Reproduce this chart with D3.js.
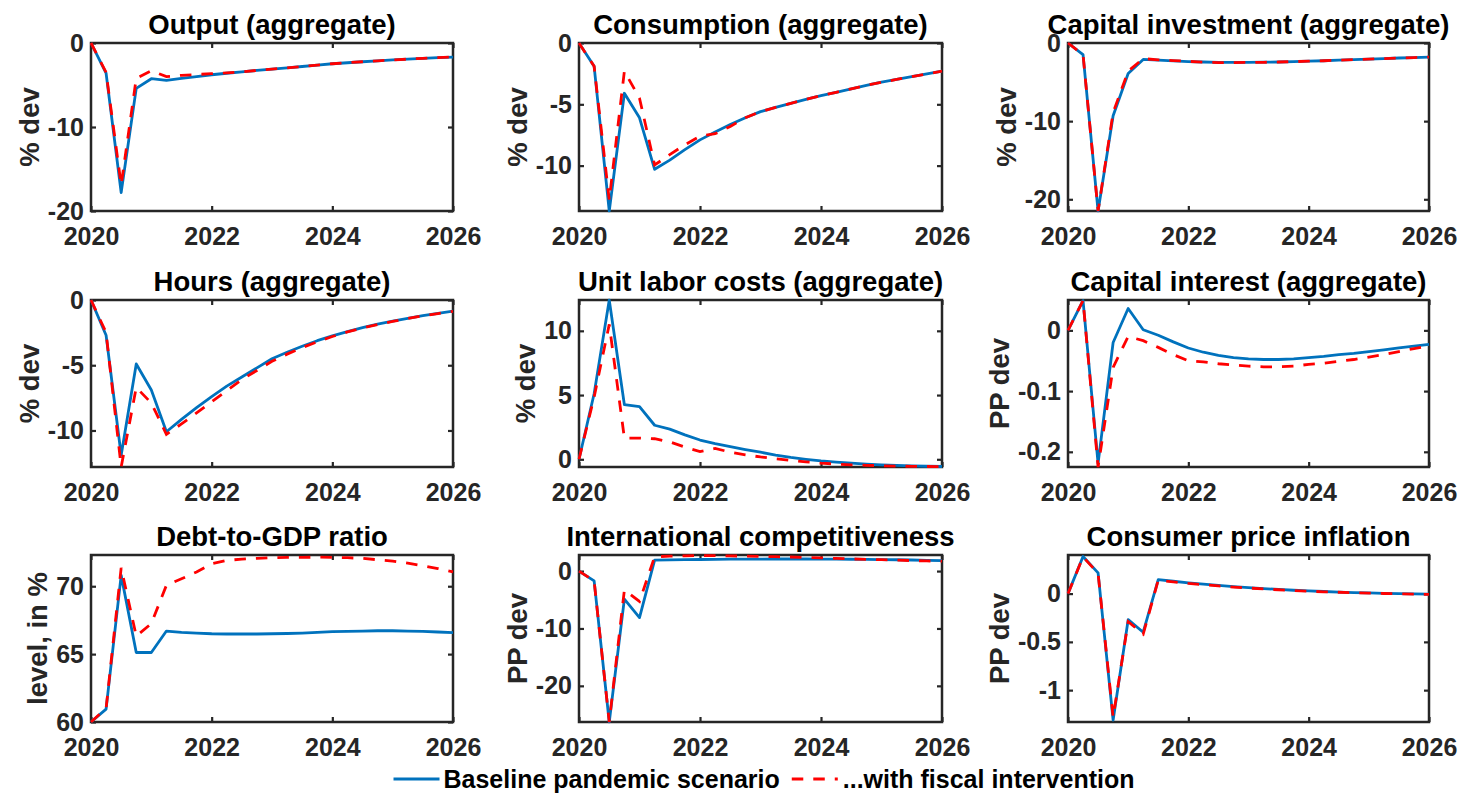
<!DOCTYPE html>
<html>
<head>
<meta charset="utf-8">
<script src="https://cdn.jsdelivr.net/npm/d3@7"></script>
<style>
  html, body { margin: 0; padding: 0; background: #ffffff; }
  svg { display: block; font-family: "Liberation Sans", Arial, Helvetica, sans-serif; font-weight: bold; }
</style>
</head>
<body>
<svg id="fig" width="1463" height="795"></svg>
<script>
// Quarterly horizon of the scenario
const quarters = [2020, 2020.25, 2020.5, 2020.75, 2021, 2021.25, 2021.5, 2021.75,
                  2022, 2022.25, 2022.5, 2022.75, 2023, 2023.25, 2023.5, 2023.75,
                  2024, 2024.25, 2024.5, 2024.75, 2025, 2025.25, 2025.5, 2025.75, 2026];
const xTicks = [2020, 2022, 2024, 2026];

const seriesNames = ["Baseline pandemic scenario", "...with fiscal intervention"];

// Output (aggregate), % dev
const outputBase   = [0, -3.6, -17.8, -5.4, -4.25, -4.45, -4.2, -4.0, -3.78, -3.6, -3.43, -3.26, -3.1, -2.95, -2.8, -2.63, -2.47, -2.35, -2.23, -2.12, -2.02, -1.92, -1.83, -1.75, -1.67];
const outputFiscal = [0, -3.5, -16.9, -4.2, -3.3, -4.0, -3.85, -3.75, -3.65, -3.55, -3.43, -3.26, -3.1, -2.95, -2.8, -2.63, -2.47, -2.35, -2.23, -2.12, -2.02, -1.92, -1.83, -1.75, -1.67];

// Consumption (aggregate), % dev
const consBase   = [0, -1.9, -13.7, -4.1, -6.1, -10.3, -9.55, -8.7, -7.9, -7.25, -6.65, -6.1, -5.6, -5.25, -4.92, -4.6, -4.3, -4.02, -3.74, -3.46, -3.2, -2.97, -2.75, -2.52, -2.3];
const consFiscal = [0, -1.9, -12.8, -2.3, -4.5, -9.95, -9.1, -8.3, -7.6, -7.4, -6.8, -6.1, -5.6, -5.25, -4.92, -4.6, -4.3, -4.02, -3.74, -3.46, -3.2, -2.97, -2.75, -2.52, -2.3];

// Capital investment (aggregate), % dev
const invBase   = [0, -1.5, -21.5, -9.3, -3.9, -2.1, -2.2, -2.3, -2.38, -2.43, -2.47, -2.48, -2.48, -2.46, -2.43, -2.38, -2.33, -2.27, -2.2, -2.13, -2.06, -1.99, -1.92, -1.86, -1.8];
const invFiscal = [0, -1.5, -21.5, -8.9, -3.6, -2.0, -2.15, -2.25, -2.35, -2.45, -2.5, -2.5, -2.49, -2.47, -2.43, -2.38, -2.33, -2.27, -2.2, -2.13, -2.06, -1.99, -1.92, -1.86, -1.8];

// Hours (aggregate), % dev
const hoursBase   = [0, -2.7, -11.9, -4.9, -6.9, -10.1, -9.15, -8.25, -7.4, -6.6, -5.9, -5.2, -4.5, -4.0, -3.55, -3.12, -2.75, -2.42, -2.12, -1.85, -1.62, -1.4, -1.2, -1.02, -0.85];
const hoursFiscal = [0, -2.5, -12.8, -6.7, -7.9, -10.3, -9.5, -8.65, -7.8, -6.95, -6.1, -5.4, -4.7, -4.15, -3.65, -3.2, -2.8, -2.45, -2.15, -1.88, -1.64, -1.42, -1.22, -1.04, -0.87];

// Unit labor costs (aggregate), % dev
const ulcBase   = [0, 5.1, 12.4, 4.25, 4.1, 2.65, 2.35, 1.9, 1.5, 1.22, 0.98, 0.76, 0.55, 0.33, 0.15, 0.0, -0.13, -0.22, -0.3, -0.37, -0.43, -0.47, -0.51, -0.54, -0.56];
const ulcFiscal = [0, 4.85, 10.5, 1.65, 1.65, 1.6, 1.35, 0.95, 0.6, 0.85, 0.55, 0.35, 0.18, 0.04, -0.08, -0.2, -0.3, -0.37, -0.43, -0.47, -0.5, -0.53, -0.55, -0.56, -0.57];

// Capital interest (aggregate), PP dev
const rkBase   = [0, 0.049, -0.219, -0.02, 0.036, 0.001, -0.008, -0.019, -0.029, -0.036, -0.041, -0.045, -0.047, -0.048, -0.048, -0.047, -0.045, -0.043, -0.04, -0.038, -0.035, -0.032, -0.029, -0.026, -0.023];
const rkFiscal = [0, 0.049, -0.225, -0.061, -0.01, -0.017, -0.028, -0.04, -0.05, -0.052, -0.055, -0.057, -0.059, -0.06, -0.06, -0.059, -0.056, -0.054, -0.051, -0.048, -0.044, -0.04, -0.035, -0.03, -0.026];

// Debt-to-GDP ratio, level in %
const debtBase   = [60, 60.95, 70.8, 65.12, 65.12, 66.7, 66.6, 66.55, 66.5, 66.48, 66.48, 66.48, 66.5, 66.52, 66.55, 66.6, 66.65, 66.68, 66.7, 66.72, 66.72, 66.7, 66.68, 66.63, 66.58];
const debtFiscal = [60, 61.0, 71.35, 66.33, 67.25, 70.07, 70.55, 71.05, 71.66, 71.9, 72.0, 72.05, 72.1, 72.12, 72.13, 72.14, 72.13, 72.1, 72.05, 71.95, 71.85, 71.7, 71.5, 71.3, 71.05];

// International competitiveness, PP dev
const compBase   = [0, -1.7, -26.3, -4.9, -8.1, 1.9, 1.95, 2.0, 2.02, 2.05, 2.07, 2.08, 2.09, 2.1, 2.1, 2.1, 2.09, 2.08, 2.06, 2.03, 2.0, 1.97, 1.93, 1.88, 1.83];
const compFiscal = [0, -1.7, -26.3, -3.3, -5.3, 2.5, 2.6, 2.65, 2.7, 2.68, 2.65, 2.6, 2.55, 2.5, 2.45, 2.38, 2.3, 2.2, 2.12, 2.05, 1.98, 1.9, 1.83, 1.77, 1.72];

// Consumer price inflation, PP dev
const cpiBase   = [0, 0.385, 0.215, -1.31, -0.27, -0.40, 0.145, 0.128, 0.112, 0.098, 0.085, 0.073, 0.062, 0.052, 0.043, 0.035, 0.028, 0.022, 0.016, 0.011, 0.007, 0.003, 0.0, -0.003, -0.006];
const cpiFiscal = [0, 0.38, 0.21, -1.28, -0.29, -0.42, 0.14, 0.122, 0.105, 0.092, 0.08, 0.068, 0.058, 0.048, 0.04, 0.032, 0.025, 0.019, 0.014, 0.009, 0.005, 0.001, -0.002, -0.005, -0.008];

const titles = ["Output (aggregate)", "Consumption (aggregate)", "Capital investment (aggregate)",
                "Hours (aggregate)", "Unit labor costs (aggregate)", "Capital interest (aggregate)",
                "Debt-to-GDP ratio", "International competitiveness", "Consumer price inflation"];
const yLabels = ["% dev", "% dev", "% dev", "% dev", "% dev", "PP dev", "level, in %", "PP dev", "PP dev"];
const yLimits = [[-20, 0], [-13.7, 0], [-21.5, 0], [-12.8, 0], [-0.6, 12.4], [-0.225, 0.05], [60, 72.3], [-26.3, 2.8], [-1.33, 0.4]];
const yTicks  = [[-20, -10, 0], [-10, -5, 0], [-20, -10, 0], [-10, -5, 0], [0, 5, 10], [-0.2, -0.1, 0], [60, 65, 70], [-20, -10, 0], [-1, -0.5, 0]];
const baseSeries   = [outputBase, consBase, invBase, hoursBase, ulcBase, rkBase, debtBase, compBase, cpiBase];
const fiscalSeries = [outputFiscal, consFiscal, invFiscal, hoursFiscal, ulcFiscal, rkFiscal, debtFiscal, compFiscal, cpiFiscal];

// Subplot grid geometry
const colLeft = [91, 579, 1068], colRight = [453, 942, 1429];
const rowTop = [43, 300, 555], rowBottom = [211, 467, 722];

const AXIS_COLOR = "#262626";
const BLUE = "#0072BD", RED = "#FF0000";
const TICK_FONT = 25, LABEL_FONT = 27.5;
const LINE_W = 2.8, DASH = "11.5,10";

const svg = d3.select("#fig");

titles.forEach((title, k) => {
  const r = Math.floor(k / 3), c = k % 3;
  const left = colLeft[c], right = colRight[c], top = rowTop[r], bottom = rowBottom[r];

  const x = d3.scaleLinear().domain([2020, 2026]).range([left, right]);
  const y = d3.scaleLinear().domain(yLimits[k]).range([bottom, top]);
  const fmt = d => String(+d.toFixed(4));

  const g = svg.append("g");

  const clipId = "clip" + k;
  g.append("clipPath").attr("id", clipId)
    .append("rect").attr("x", left - 1.5).attr("y", top - 1.5)
    .attr("width", right - left + 3).attr("height", bottom - top + 3);

  // box
  g.append("rect")
    .attr("x", left).attr("y", top).attr("width", right - left).attr("height", bottom - top)
    .attr("fill", "none").attr("stroke", AXIS_COLOR).attr("stroke-width", 2.5);

  // axes with inward ticks
  const styleAxis = sel => {
    sel.select(".domain").remove();
    sel.selectAll(".tick line").attr("stroke", AXIS_COLOR).attr("stroke-width", 2.2);
    sel.selectAll(".tick text")
      .attr("fill", AXIS_COLOR)
      .style("font-size", TICK_FONT + "px")
      .style("font-weight", "bold");
  };
  g.append("g").attr("transform", `translate(0,${bottom})`)
    .call(d3.axisBottom(x).tickValues(xTicks).tickSize(-5).tickPadding(16.5).tickFormat(d3.format("d")))
    .call(styleAxis);
  g.append("g").attr("transform", `translate(0,${top})`)
    .call(d3.axisTop(x).tickValues(xTicks).tickSize(-5).tickFormat(""))
    .call(styleAxis);
  const yAxisG = g.append("g").attr("transform", `translate(${left},0)`)
    .call(d3.axisLeft(y).tickValues(yTicks[k]).tickSize(-5).tickPadding(7).tickFormat(fmt))
    .call(styleAxis);
  g.append("g").attr("transform", `translate(${right},0)`)
    .call(d3.axisRight(y).tickValues(yTicks[k]).tickSize(-5).tickFormat(""))
    .call(styleAxis);

  // y label placed clear of the widest tick label
  let maxW = 0;
  yAxisG.selectAll(".tick text").each(function () { maxW = Math.max(maxW, this.getComputedTextLength()); });
  const lx = left - 7 - maxW - 9, ly = (top + bottom) / 2;
  g.append("text")
    .attr("transform", `translate(${lx},${ly}) rotate(-90)`)
    .attr("text-anchor", "middle")
    .attr("fill", AXIS_COLOR)
    .style("font-size", LABEL_FONT + "px")
    .text(yLabels[k]);

  // title
  g.append("text")
    .attr("x", (left + right) / 2).attr("y", top - 9)
    .attr("text-anchor", "middle")
    .attr("fill", "#000")
    .style("font-size", LABEL_FONT + "px")
    .text(title);

  // series
  const line = d3.line().x((d, i) => x(quarters[i])).y(d => y(d));
  const plot = g.append("g").attr("clip-path", `url(#${clipId})`);
  plot.append("path").datum(baseSeries[k])
    .attr("d", line).attr("fill", "none")
    .attr("stroke", BLUE).attr("stroke-width", LINE_W).attr("stroke-linejoin", "round");
  plot.append("path").datum(fiscalSeries[k])
    .attr("d", line).attr("fill", "none")
    .attr("stroke", RED).attr("stroke-width", LINE_W).attr("stroke-dasharray", DASH);
});

// legend along the bottom
const legend = svg.append("g");
const legY = 779, sampleLen = 46;
const items = [
  { name: seriesNames[0], color: BLUE, dash: null },
  { name: seriesNames[1], color: RED, dash: DASH }
];
const texts = items.map(it => legend.append("text")
  .attr("y", legY + 9)
  .attr("fill", "#000")
  .style("font-size", TICK_FONT + "px")
  .text(it.name));
const widths = texts.map(t => t.node().getComputedTextLength());
const totalW = sampleLen + 4 + widths[0] + 12 + sampleLen + 5 + widths[1];
let cx = 764 - totalW / 2;
items.forEach((it, i) => {
  const ln = legend.append("line")
    .attr("x1", cx).attr("x2", cx + sampleLen).attr("y1", legY).attr("y2", legY)
    .attr("stroke", it.color).attr("stroke-width", LINE_W);
  if (it.dash) ln.attr("stroke-dasharray", it.dash);
  cx += sampleLen + (i === 0 ? 4 : 5);
  texts[i].attr("x", cx);
  cx += widths[i] + 12;
});
</script>
</body>
</html>
